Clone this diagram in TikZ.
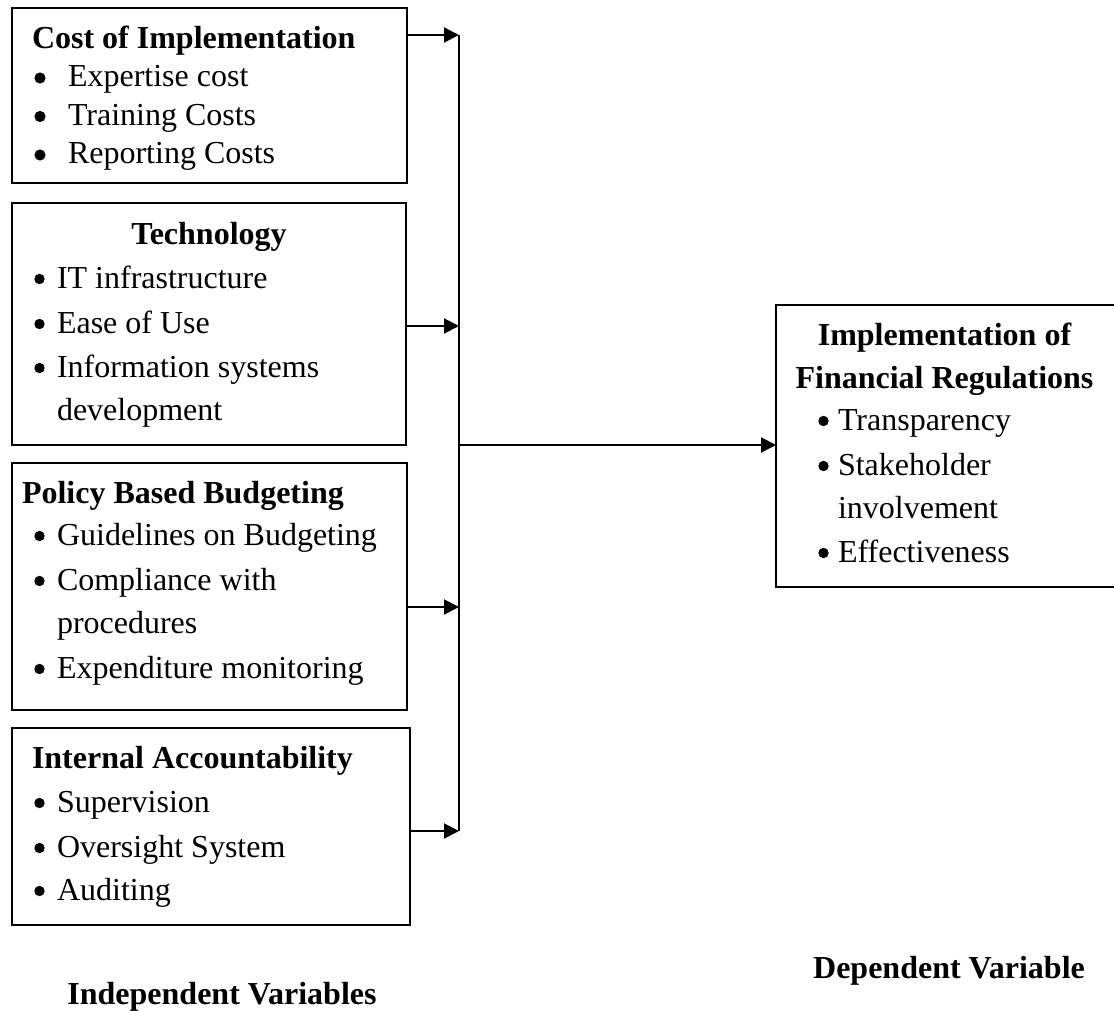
\documentclass[tikz,border=0pt]{standalone}
\usepackage{fontspec}
\setmainfont{Liberation Serif}
\usetikzlibrary{arrows.meta}
\begin{document}
\begin{tikzpicture}[x=1pt,y=-1pt,
  box/.style={draw, line width=2pt, inner sep=0pt, outer sep=0pt, anchor=north west},
  txt/.style={anchor=base west, inner sep=0pt, outer sep=0pt, font=\fontsize{32}{38}\selectfont},
  head/.style={anchor=base west, inner sep=0pt, outer sep=0pt, font=\fontsize{32}{38}\selectfont\bfseries},
  chead/.style={anchor=base, inner sep=0pt, outer sep=0pt, font=\fontsize{32}{38}\selectfont\bfseries},
  dot/.style={fill=black},
  bus/.style={line width=2pt},
  link/.style={line width=2pt, -{Triangle[length=15pt,width=15pt]}}]
\clip (0,0) rectangle (1114,1011);
\fill[white] (0,0) rectangle (1114,1011);

% boxes
\node[box, minimum width=395pt, minimum height=175pt] (b1) at (12,8) {};
\node[box, minimum width=394pt, minimum height=242pt] (b2) at (12,203) {};
\node[box, minimum width=395pt, minimum height=247pt] (b3) at (12,463) {};
\node[box, minimum width=398pt, minimum height=197pt] (b4) at (12,728) {};
\node[box, minimum width=345pt, minimum height=282pt] (dv) at (776,305) {};

% box 1
\node[head] (t1) at (32,49) {Cost of Implementation};
\node[txt] (t1a) at (68,87) {Expertise cost};
\node[txt] (t1b) at (68,125.5) {Training Costs};
\node[txt] (t1c) at (68,164) {Reporting Costs};

% box 2
\node[chead] (t2) at (209,245) {Technology};
\node[txt] (t2a) at (57,288) {IT infrastructure};
\node[txt] (t2b) at (57,333) {Ease of Use};
\node[txt] (t2c) at (57,377) {Information systems};
\node[txt] (t2d) at (57,420) {development};

% box 3
\node[head] (t3) at (22,503) {Policy Based Budgeting};
\node[txt] (t3a) at (57,545) {Guidelines on Budgeting};
\node[txt] (t3b) at (57,590) {Compliance with};
\node[txt] (t3c) at (57,633) {procedures};
\node[txt] (t3d) at (57,678) {Expenditure monitoring};

% box 4
\node[head] (t4) at (32,768) {Internal Accountability};
\node[txt] (t4a) at (57,812) {Supervision};
\node[txt] (t4b) at (57,857) {Oversight System};
\node[txt] (t4c) at (57,900) {Auditing};

% dependent box
\node[chead] (t5) at (944.5,345) {Implementation of};
\node[chead] (t5b) at (944.5,388) {Financial Regulations};
\node[txt] (t5c) at (838,430) {Transparency};
\node[txt] (t5d) at (838,475) {Stakeholder};
\node[txt] (t5e) at (838,518) {involvement};
\node[txt] (t5f) at (838,562) {Effectiveness};

% bullets
\foreach \n in {t1a,t1b,t1c}
  \fill[dot] (\n.base west) ++(-28,-9) circle (5.6);
\foreach \n in {t2a,t2b,t2c,t3a,t3b,t3d,t4a,t4b,t4c}
  \fill[dot] (\n.base west) ++(-17.5,-9) circle (5.2);
\foreach \n in {t5c,t5d,t5f}
  \fill[dot] (\n.base west) ++(-14.5,-9) circle (5.2);

% captions
\node[chead] (iv) at (222,1004) {Independent Variables};
\node[chead] (dvl) at (949,978) {Dependent Variable};

% connectors
\coordinate (j1) at (459,35);
\coordinate (j2) at (459,326);
\coordinate (j3) at (459,607);
\coordinate (j4) at (459,831);
\coordinate (jm) at (459,445);
\draw[bus] (j1) -- (j4);
\draw[link] (j1 -| b1.east) -- (j1);
\draw[link] (j2 -| b2.east) -- (j2);
\draw[link] (j3 -| b3.east) -- (j3);
\draw[link] (j4 -| b4.east) -- (j4);
\draw[link] (jm) -- (jm -| dv.west);
\end{tikzpicture}
\end{document}
